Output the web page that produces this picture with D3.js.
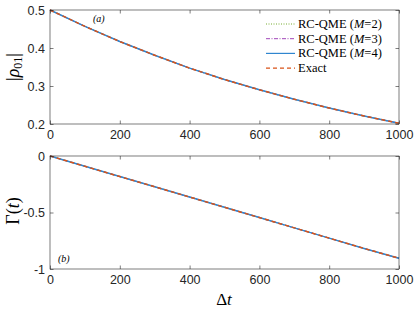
<!DOCTYPE html>
<html>
<head>
<meta charset="utf-8">
<script src="https://cdn.jsdelivr.net/npm/d3@7"></script>
<style>
  body { margin: 0; background: #fff; }
  .serif { font-family: "Liberation Serif", "Times New Roman", serif; fill: #000; }
</style>
</head>
<body>
<div id="chart"></div>
<script>
var svgWidth = 415;
var svgHeight = 312;

// values
var times = [0, 100, 200, 300, 400, 500, 600, 700, 800, 900, 1000];
var rho = [0.500, 0.457, 0.417, 0.381, 0.347, 0.317, 0.290, 0.265, 0.242, 0.221, 0.202];
var gamma = [0, -0.091, -0.182, -0.272, -0.363, -0.454, -0.545, -0.636, -0.727, -0.818, -0.905];
var xTicks = [0, 200, 400, 600, 800, 1000];
var rhoTicks = [0.2, 0.3, 0.4, 0.5];
var gammaTicks = [-1, -0.5, 0];

var series = [
  { name: "M=2", color: "#77AC30", dash: "1,1.5", width: 1 },
  { name: "M=3", color: "#A044B8", dash: "4,1.5,1,1.5", width: 1 },
  { name: "M=4", color: "#2F86CF", dash: null, width: 1.5 },
  { name: "Exact", color: "#D95319", dash: "4,3", width: 1.5 }
];

var svg = d3.select("#chart").append("svg")
  .attr("width", svgWidth)
  .attr("height", svgHeight);

var left = 50, right = 399;

var x = d3.scaleLinear().domain([0, 1000]).range([left, right]);

function panel(top, bottom, yDomain, yTicks, values, fmt) {
  var y = d3.scaleLinear().domain(yDomain).range([bottom, top]);
  var g = svg.append("g");

  // plot lines
  var line = d3.line().x(function(d, i) { return x(times[i]); }).y(function(d) { return y(d); });
  series.forEach(function(s) {
    g.append("path")
      .datum(values)
      .attr("fill", "none")
      .attr("stroke", s.color)
      .attr("stroke-width", s.width)
      .attr("stroke-dasharray", s.dash)
      .attr("d", line);
  });

  // box
  g.append("rect")
    .attr("x", left).attr("y", top)
    .attr("width", right - left).attr("height", bottom - top)
    .attr("fill", "none").attr("stroke", "#262626").attr("stroke-width", 0.6);

  var bottomAxis = d3.axisBottom(x).tickValues(xTicks).tickSize(-3.5).tickPadding(6).tickFormat(d3.format("d"));
  var leftAxis = d3.axisLeft(y).tickValues(yTicks).tickSize(-3.5).tickPadding(5).tickFormat(fmt);
  var topAxis = d3.axisTop(x).tickValues(xTicks).tickSize(-3.5).tickFormat("");
  var rightAxis = d3.axisRight(y).tickValues(yTicks).tickSize(-3.5).tickFormat("");

  [[bottomAxis, "translate(0," + bottom + ")"], [leftAxis, "translate(" + left + ",0)"],
   [topAxis, "translate(0," + top + ")"], [rightAxis, "translate(" + right + ",0)"]].forEach(function(a) {
    var ax = g.append("g").attr("transform", a[1]).call(a[0])
      .attr("font-family", "'Liberation Sans', Arial, sans-serif")
      .attr("font-size", 12.5);
    ax.select(".domain").remove();
    ax.selectAll(".tick line").attr("stroke", "#262626").attr("stroke-width", 0.6);
    ax.selectAll(".tick text").attr("fill", "#262626");
  });
  return { g: g, y: y };
}

var p1 = panel(10, 124, [0.2, 0.5], rhoTicks, rho, d3.format(".1f"));
var p2 = panel(156, 269, [-1, 0], gammaTicks, gamma, function(d) { return d === 0 ? "0" : String(d); });

// panel labels
svg.append("text").attr("class", "serif").attr("x", 93).attr("y", 22)
  .style("font-size", "10px").style("font-style", "italic").text("(a)");
svg.append("text").attr("class", "serif").attr("x", 58).attr("y", 262)
  .style("font-size", "10px").style("font-style", "italic").text("(b)");

// y labels
var yl1 = svg.append("text").attr("class", "serif")
  .attr("transform", "translate(19,67) rotate(-90)")
  .attr("text-anchor", "middle").style("font-size", "18px");
yl1.append("tspan").text("|");
yl1.append("tspan").style("font-style", "italic").text("ρ");
yl1.append("tspan").attr("dy", 3).style("font-size", "12px").text("01");
yl1.append("tspan").attr("dy", -3).text("|");

var yl2 = svg.append("text").attr("class", "serif")
  .attr("transform", "translate(19,211) rotate(-90)")
  .attr("text-anchor", "middle").style("font-size", "18px");
yl2.append("tspan").text("Γ(");
yl2.append("tspan").style("font-style", "italic").text("t");
yl2.append("tspan").text(")");

var xl = svg.append("text").attr("class", "serif")
  .attr("x", 224).attr("y", 305)
  .attr("text-anchor", "middle").style("font-size", "17px");
xl.append("tspan").text("Δ");
xl.append("tspan").style("font-style", "italic").text("t");

// legend
var legendNames = ["RC-QME (", "RC-QME (", "RC-QME (", "Exact"];
var legendM = ["2", "3", "4", null];
series.forEach(function(s, i) {
  var ly = 24 + i * 14.7;
  svg.append("line")
    .attr("x1", 266).attr("x2", 295).attr("y1", ly).attr("y2", ly)
    .attr("stroke", s.color).attr("stroke-width", Math.min(s.width, 1.2))
    .attr("stroke-dasharray", s.dash);
  var t = svg.append("text").attr("class", "serif")
    .attr("x", 298).attr("y", ly + 4).style("font-size", "12.5px");
  t.append("tspan").text(legendNames[i]);
  if (legendM[i]) {
    t.append("tspan").style("font-style", "italic").text("M");
    t.append("tspan").text("=" + legendM[i] + ")");
  }
});
</script>
</body>
</html>
